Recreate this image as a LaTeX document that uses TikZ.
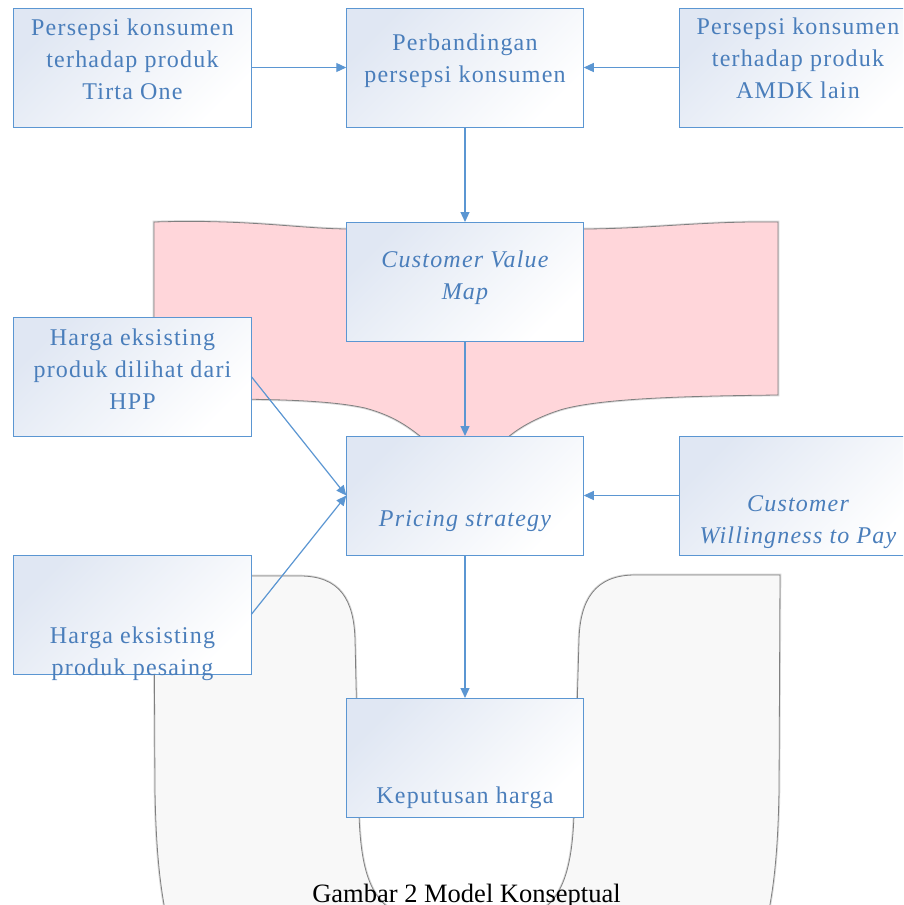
\documentclass[tikz,border=0pt]{standalone}
\usepackage{fontspec}
\setmainfont{Liberation Serif}
\newfontfamily\kotakfont[LetterSpace=5]{Liberation Serif}
\usetikzlibrary{arrows.meta}
\definecolor{garis}{RGB}{91,150,210}
\definecolor{tulisan}{RGB}{74,126,187}
\definecolor{isibiru}{RGB}{224,231,243}
\definecolor{merah}{RGB}{255,214,218}
\definecolor{abu}{RGB}{248,248,248}
\newcommand{\baris}[1]{\begin{tabular}[t]{@{}c@{}}#1\end{tabular}}
\begin{document}
\begin{tikzpicture}[x=1pt,y=-1pt,
  kotak/.style={draw=garis,line width=1pt,top color=isibiru,bottom color=white,shading angle=45,
    minimum width=237.5pt,minimum height=119pt,inner sep=0pt,outer sep=0pt},
  teks/.style={anchor=base,inner sep=0pt,text=tulisan,font=\kotakfont\fontsize{24}{32}\selectfont},
  latar/.style={draw=black!50,line width=0.8pt,preaction={draw=black!15,line width=2.6pt}},
  panah/.style={draw=garis,line width=1.2pt,-{Triangle[length=10pt,width=9pt]}}]
  \useasboundingbox (0,0) rectangle (903,905);
  \clip (0,0) rectangle (903,905);
  \fill[white] (0,0) rectangle (903,905);
  \draw[latar,fill=merah] (154,222) .. controls (250,219) and (300,229) .. (350,229) -- (580,229)
    .. controls (650,229) and (700,221) .. (778,222) -- (778,395)
    .. controls (690,396) and (600,398) .. (560,410) .. controls (535,418) and (515,430) .. (505,440)
    -- (425,440) .. controls (410,428) and (395,416) .. (365,408)
    .. controls (320,398) and (240,399) .. (154,399) -- cycle;
  \draw[latar,fill=abu] (154,576) -- (300,576) .. controls (340,576) and (354,600) .. (355,640)
    -- (359,815) .. controls (361,870) and (370,915) .. (420,918) -- (515,918)
    .. controls (562,915) and (572,870) .. (574,815) -- (579,640)
    .. controls (580,600) and (595,575) .. (635,575) -- (780,575) -- (779,790)
    .. controls (778,850) and (774,885) .. (768,915) -- (166,915)
    .. controls (160,885) and (156,850) .. (155,790) -- cycle;
  \node[kotak] (perA) at (132.5,67.5) {};
  \node[kotak] (banding) at (465,67.5) {};
  \node[kotak] (perB) at (798,67.5) {};
  \node[kotak] (cvm) at (465,281.5) {};
  \node[kotak] (hpp) at (132.5,376.5) {};
  \node[kotak] (pricing) at (465,495.5) {};
  \node[kotak] (wtp) at (798,495.5) {};
  \node[kotak] (pesaing) at (132.5,614.5) {};
  \node[kotak] (keputusan) at (465,757.5) {};
  \node[teks] at ([yshift=-27pt]perA.north) {\baris{Persepsi konsumen\\terhadap produk\\Tirta One}};
  \node[teks] at ([yshift=-42pt]banding.north) {\baris{Perbandingan\\persepsi konsumen}};
  \node[teks] at ([yshift=-26.5pt]perB.north) {\baris{Persepsi konsumen\\terhadap produk\\AMDK lain}};
  \node[teks] at ([yshift=-45pt]cvm.north) {\itshape\baris{Customer Value\\Map}};
  \node[teks] at ([yshift=-28pt]hpp.north) {\baris{Harga eksisting\\produk dilihat dari\\HPP}};
  \node[teks] at ([yshift=-90pt]pricing.north) {\itshape Pricing strategy};
  \node[teks] at ([yshift=-75.7pt]wtp.north) {\itshape\baris{Customer\\Willingness to Pay}};
  \node[teks] at ([yshift=-88.3pt]pesaing.north) {\baris{Harga eksisting\\produk pesaing}};
  \node[teks] at ([yshift=-105pt]keputusan.north) {Keputusan harga};
  \node[anchor=base,inner sep=0pt,font=\fontsize{26.5}{30}\selectfont] (judul) at (466.5,902) {Gambar 2 Model Konseptual};
  \draw[panah] (perA) -- (banding);
  \draw[panah] (perB) -- (banding);
  \draw[panah] (banding) -- (cvm);
  \draw[panah] (cvm) -- (pricing);
  \draw[panah] (hpp.east) -- (pricing.west);
  \draw[panah] (pesaing.east) -- (pricing.west);
  \draw[panah] (wtp) -- (pricing);
  \draw[panah] (pricing) -- (keputusan);
\end{tikzpicture}
\end{document}
